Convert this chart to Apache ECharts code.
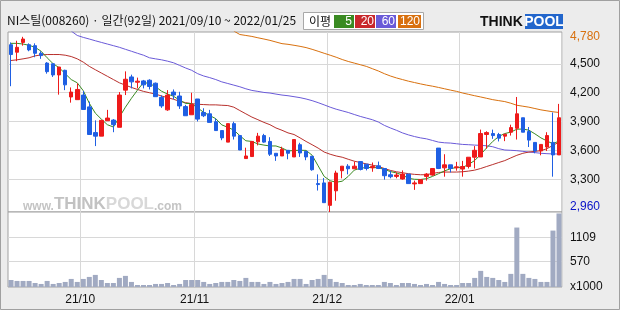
<!DOCTYPE html>
<html><head><meta charset="utf-8">
<script src="https://cdn.jsdelivr.net/npm/echarts@6/dist/echarts.min.js"></script>
<style>html,body{margin:0;padding:0;background:#ececec}#c{width:620px;height:310px}</style>
</head><body><div id="c"></div>
<script>
const dates = ['2021-09-10','2021-09-13','2021-09-14','2021-09-15','2021-09-16','2021-09-17','2021-09-23','2021-09-24','2021-09-27','2021-09-28','2021-09-29','2021-09-30',
'2021-10-01','2021-10-05','2021-10-06','2021-10-07','2021-10-08','2021-10-12','2021-10-13','2021-10-14','2021-10-15','2021-10-18','2021-10-19','2021-10-20','2021-10-21','2021-10-22','2021-10-25','2021-10-26','2021-10-27','2021-10-28','2021-10-29',
'2021-11-01','2021-11-02','2021-11-03','2021-11-04','2021-11-05','2021-11-08','2021-11-09','2021-11-10','2021-11-11','2021-11-12','2021-11-15','2021-11-16','2021-11-17','2021-11-18','2021-11-19','2021-11-22','2021-11-23','2021-11-24','2021-11-25','2021-11-26','2021-11-29','2021-11-30',
'2021-12-01','2021-12-02','2021-12-03','2021-12-06','2021-12-07','2021-12-08','2021-12-09','2021-12-10','2021-12-13','2021-12-14','2021-12-15','2021-12-16','2021-12-17','2021-12-20','2021-12-21','2021-12-22','2021-12-23','2021-12-24','2021-12-27','2021-12-28','2021-12-29','2021-12-30',
'2022-01-03','2022-01-04','2022-01-05','2022-01-06','2022-01-07','2022-01-10','2022-01-11','2022-01-12','2022-01-13','2022-01-14','2022-01-17','2022-01-18','2022-01-19','2022-01-20','2022-01-21','2022-01-24','2022-01-25'];
const monthStarts = ['2021-10-01','2021-11-01','2021-12-01','2022-01-03'];
const monthLabels = ['21/10','21/11','21/12','22/01'];

const open = [4698,4620,4722,4698,4688,4609,4507,4500,4384,4432,4155,4127,4175,4052,3785,3748,3908,3915,3840,4226,4363,4308,4322,
4329,4298,4151,4021,4206,4165,4055,3970,4134,3994,3980,3898,3806,3686,3878,3754,3515,3536,3689,3754,3693,3570,3542,
3601,3532,3659,3590,3539,3255,3262,3029,3180,3389,3436,3409,3484,3457,3419,3440,3412,3347,3330,3303,3354,3252,3255,3330,
3344,3624,3419,3450,3419,3406,3433,3529,3532,3765,3775,3765,3748,3789,3830,3939,3796,3683,3594,3635,3683,3553];
const close = [4596,4671,4757,4644,4609,4585,4418,4384,4466,4281,4206,4233,4025,3765,3748,3912,3936,3867,4175,4339,4312,4319,4281,
4264,4158,4062,4175,4175,4062,3960,4076,3925,3960,3891,3806,3730,3878,3748,3604,3542,3693,3748,3686,3560,3542,3611,
3570,3713,3573,3532,3399,3245,3057,3269,3365,3436,3409,3436,3402,3412,3433,3412,3337,3327,3344,3354,3255,3262,3296,3354,
3412,3412,3450,3412,3429,3433,3529,3601,3775,3785,3754,3727,3768,3837,3980,3789,3707,3594,3662,3754,3553,3939];
const low = [4267,4527,4688,4630,4568,4551,4397,4363,4179,4226,4096,4127,4025,3765,3645,3748,3908,3789,3840,4175,4244,4244,4244,
4233,4158,4042,4011,4131,4031,3960,3970,3901,3946,3891,3806,3706,3686,3713,3604,3515,3536,3652,3679,3542,3491,3542,
3508,3532,3532,3498,3389,3183,3057,2960,3077,3310,3351,3409,3392,3392,3378,3406,3296,3310,3310,3296,3255,3190,3255,3286,
3337,3406,3327,3371,3389,3327,3412,3412,3532,3618,3720,3693,3696,3754,3713,3789,3635,3570,3549,3594,3327,3553];
const high = [4722,4739,4780,4712,4712,4630,4517,4500,4466,4438,4254,4295,4216,4107,3912,3912,4021,3925,4206,4421,4387,4356,4332,
4339,4305,4172,4226,4233,4209,4073,4199,4134,4038,4021,3932,3806,3878,3898,3754,3628,3693,3782,3772,3737,3570,3638,
3601,3713,3679,3590,3539,3351,3313,3276,3389,3436,3457,3484,3484,3457,3474,3484,3412,3389,3371,3392,3354,3286,3296,3364,
3412,3624,3560,3450,3481,3491,3529,3645,3816,3799,3816,3782,3768,3867,4155,3939,3843,3683,3662,3789,3994,4083];

const ma5 = [4712,4712,4705,4692,4671,4630,4562,4500,4459,4397,4336,4302,4220,4090,3987,3925,3867,3843,3946,4049,4141,4226,4305,
4295,4262,4215,4185,4162,4122,4088,4087,4040,3996,3962,3930,3865,3840,3811,3753,3700,3693,3667,3655,3646,3646,3625,
3594,3599,3602,3600,3550,3440,3330,3285,3269,3280,3330,3395,3415,3422,3422,3420,3402,3380,3366,3345,3310,3300,3298,3306,
3330,3358,3387,3410,3423,3423,3455,3495,3558,3627,3693,3745,3775,3790,3820,3822,3810,3772,3730,3698,3668,3698];
const ma20 = [4534,4541,4551,4562,4582,4592,4596,4596,4596,4589,4575,4551,4517,4473,4438,4404,4370,4336,4302,4278,4254,4233,4213,
4199,4185,4165,4148,4131,4110,4096,4086,4079,4076,4073,4073,4069,4066,4049,4014,3980,3946,3919,3891,3867,3833,3809,
3782,3765,3730,3693,3659,3624,3583,3560,3542,3529,3508,3488,3474,3460,3447,3433,3412,3392,3378,3368,3358,3351,3347,3347,
3361,3371,3375,3375,3375,3378,3385,3395,3412,3433,3453,3474,3494,3522,3549,3570,3583,3590,3597,3618,3652,3686];
const ma60 = [null,null,null,null,null,null,null,null,null,null,4840,4794,4774,4757,4739,4722,4705,4688,4671,4650,4630,4609,4589,
4562,4551,4541,4527,4510,4483,4456,4432,4397,4373,4356,4336,4312,4295,4278,4261,4240,4223,4213,4202,4196,4185,4175,
4168,4158,4148,4134,4117,4096,4073,4049,4028,4011,3994,3973,3953,3936,3919,3895,3860,3833,3809,3782,3761,3744,3730,3720,
3703,3686,3679,3676,3669,3662,3659,3655,3652,3648,3638,3618,3604,3601,3597,3590,3583,3577,3570,3566,3563,3563];
const ma120 = [null,null,null,null,null,null,null,null,null,null,null,null,null,null,null,null,null,null,null,null,null,null,null,
null,null,null,null,null,null,null,null,null,null,null,null,null,null,4840,4804,4794,4784,4770,4757,4743,4726,4709,
4702,4692,4681,4668,4650,4630,4609,4589,4568,4544,4524,4507,4490,4473,4449,4425,4397,4373,4353,4336,4319,4305,4291,4278,
4267,4254,4240,4226,4213,4196,4182,4168,4155,4141,4127,4117,4107,4090,4069,4059,4049,4035,4021,4011,4001,3994];
const volume = [157,135,135,135,90,68,135,68,90,113,180,113,180,225,270,157,90,90,203,248,113,45,45,45,68,68,90,45,68,157,157,157,113,68,90,113,113,157,135,203,113,113,68,113,68,90,
113,180,180,68,157,180,270,180,113,90,45,45,68,45,45,45,113,90,45,90,90,68,45,68,45,113,68,45,45,
90,90,203,360,225,203,157,113,293,1328,293,203,180,113,113,1260,1643];

const priceGridValues = [3300,3600,3900,4200,4500];
const priceLabelValues = [2960,3300,3600,3900,4200,4500,4780];
const volGridValues = [570,1109];
const volLabelValues = [0,570,1109];
const maNames = ['5','20','60','120'];

const C_UP='#ee1a1a', C_DN='#1f5fe3', C_MA5='#3a8a22', C_MA20='#b8302c', C_MA60='#6a5ad8', C_MA120='#d8700e';
const GRID='#d8d8d8', BORDER='#a0a0a0';
const FONT='Liberation Sans';
const candle = dates.map((d,i)=>[open[i],close[i],low[i],high[i]]);
const startIdx = monthStarts.map(d=>dates.indexOf(d));
const fmt = v => v.toLocaleString('en-US');

const chart = echarts.init(document.getElementById('c'));
const option = {
  backgroundColor:'#ececec',
  animation:false,
  grid:[
    {left:8,right:58,top:32,height:180,show:true,backgroundColor:'#fff',borderColor:BORDER,borderWidth:1},
    {left:8,right:58,top:212,height:75,show:true,backgroundColor:'#fff',borderColor:BORDER,borderWidth:1}
  ],
  xAxis:[
    {type:'category',data:dates,gridIndex:0,boundaryGap:true,axisLine:{show:false},axisTick:{show:false},axisLabel:{show:false},
     splitLine:{show:true,interval:(i)=>startIdx.includes(i),lineStyle:{color:GRID,width:1}}},
    {type:'category',data:dates,gridIndex:1,boundaryGap:true,axisLine:{show:false},axisTick:{show:false},
     axisLabel:{show:true,interval:(i)=>startIdx.includes(i),margin:7,
       formatter:(v)=>'{a|'+monthLabels[monthStarts.indexOf(v)]+'}',
       rich:{a:{color:'#111',fontSize:12,fontFamily:FONT,padding:[0,6,0,0]}}},
     splitLine:{show:true,interval:(i)=>startIdx.includes(i),lineStyle:{color:GRID,width:1}}}
  ],
  yAxis:[
    {type:'value',gridIndex:0,position:'right',min:2960,max:4830,
     axisLine:{show:false},axisTick:{show:false,customValues:priceGridValues},
     splitLine:{show:true,lineStyle:{color:GRID,width:1}},
     axisLabel:{customValues:priceLabelValues,margin:8,
       formatter:(v)=> v===4780?'{o|'+fmt(v)+'}':(v===2960?'{b|'+fmt(v)+'}':'{n|'+fmt(v)+'}'),
       rich:{o:{color:C_MA120,fontSize:12,fontFamily:FONT},
             b:{color:'#0a14c8',fontSize:12,fontFamily:FONT,padding:[0,0,10,0]},
             n:{color:'#111',fontSize:12,fontFamily:FONT}}}},
    {type:'value',gridIndex:1,position:'right',min:0,max:1675,
     axisLine:{show:false},axisTick:{show:false,customValues:volGridValues},
     splitLine:{show:true,lineStyle:{color:GRID,width:1}},
     axisLabel:{customValues:volLabelValues,margin:8,color:'#111',fontSize:12,fontFamily:FONT,
       formatter:(v)=> v===0?'x1000':String(v)}}
  ],
  series:[
    {type:'line',name:'MA120',data:ma120,xAxisIndex:0,yAxisIndex:0,showSymbol:false,symbol:'none',lineStyle:{color:C_MA120,width:1},z:2},
    {type:'line',name:'MA60',data:ma60,xAxisIndex:0,yAxisIndex:0,showSymbol:false,symbol:'none',lineStyle:{color:C_MA60,width:1},z:2},
    {type:'line',name:'MA20',data:ma20,xAxisIndex:0,yAxisIndex:0,showSymbol:false,symbol:'none',lineStyle:{color:C_MA20,width:1},z:2},
    {type:'line',name:'MA5',data:ma5,xAxisIndex:0,yAxisIndex:0,showSymbol:false,symbol:'none',lineStyle:{color:C_MA5,width:1},z:2},
    {type:'candlestick',data:candle,xAxisIndex:0,yAxisIndex:0,barWidth:4,z:3,
     itemStyle:{color:C_UP,color0:C_DN,borderColor:C_UP,borderColor0:C_DN,borderWidth:1}},
    {type:'bar',data:volume,xAxisIndex:1,yAxisIndex:1,barWidth:5,itemStyle:{color:'#a1aac2'},z:2}
  ],
  graphic:[
    {type:'rect',z:20,silent:true,shape:{x:0.5,y:0.5,width:619,height:309},style:{fill:'none',stroke:BORDER,lineWidth:1}},
    {type:'text',z:20,left:7,top:14,style:{text:'NI스틸(008260) · 일간(92일) 2021/09/10 ~ 2022/01/25',fill:'#111',font:'12px "Noto Sans CJK KR"'}},
    {type:'rect',z:20,shape:{x:303.5,y:12.5,width:120,height:17},style:{fill:'#fff',stroke:'#a8a8a8',lineWidth:1}},
    {type:'text',z:21,x:309,y:21,style:{text:'이평',fill:'#111',font:'12px "Noto Sans CJK KR"',verticalAlign:'middle'}},
    {type:'rect',z:21,shape:{x:334,y:15,width:20,height:13},style:{fill:C_MA5}},
    {type:'rect',z:21,shape:{x:355,y:15,width:20,height:13},style:{fill:'#c8282c'}},
    {type:'rect',z:21,shape:{x:376,y:15,width:20,height:13},style:{fill:C_MA60}},
    {type:'rect',z:21,shape:{x:398,y:15,width:23,height:13},style:{fill:C_MA120}},
    {type:'text',z:22,x:352,y:21.5,style:{text:maNames[0],fill:'#fff',font:'12px "Liberation Sans"',align:'right',verticalAlign:'middle'}},
    {type:'text',z:22,x:374,y:21.5,style:{text:maNames[1],fill:'#fff',font:'12px "Liberation Sans"',align:'right',verticalAlign:'middle'}},
    {type:'text',z:22,x:395,y:21.5,style:{text:maNames[2],fill:'#fff',font:'12px "Liberation Sans"',align:'right',verticalAlign:'middle'}},
    {type:'text',z:22,x:420,y:21.5,style:{text:maNames[3],fill:'#fff',font:'12px "Liberation Sans"',align:'right',verticalAlign:'middle'}},
    {type:'text',z:20,x:480,y:22,style:{text:'THINK',fill:'#111',font:'bold 14px "Liberation Sans"',verticalAlign:'middle'}},
    {type:'rect',z:20,shape:{x:525,y:14,width:38,height:15},style:{fill:'#2266cc'}},
    {type:'text',z:21,x:544,y:22,style:{text:'POOL',fill:'#fff',font:'bold 14px "Liberation Sans"',align:'center',verticalAlign:'middle'}},
    {type:'text',z:1,silent:true,x:23,y:204,style:{
      text:'{w|www.}{t|THINK}{p|POOL}{w|.com}',verticalAlign:'middle',
      rich:{w:{fill:'#c4c4c4',font:'bold 12px "Liberation Sans"',padding:[5,0,0,0]},
            t:{fill:'#c2c2c2',font:'bold 17px "Liberation Sans"'},
            p:{fill:'#d8d8d8',font:'bold 17px "Liberation Sans"'}}}}
  ]
};
chart.setOption(option);
</script></body></html>
